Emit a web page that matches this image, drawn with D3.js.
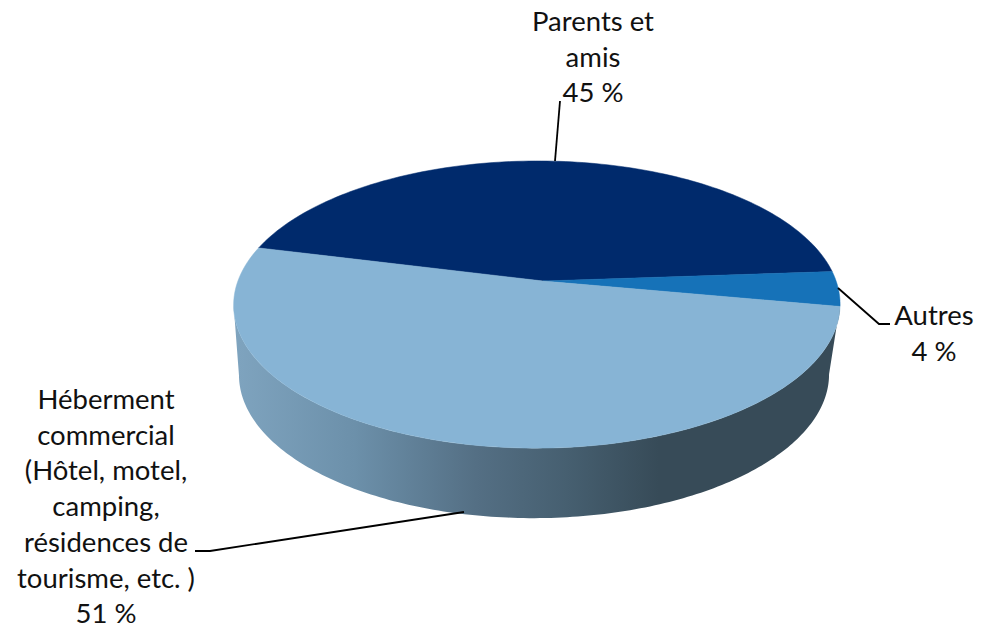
<!DOCTYPE html>
<html><head><meta charset="utf-8">
<script src="https://cdn.jsdelivr.net/npm/d3@7"></script>
<style>html,body{margin:0;background:#fff}svg{display:block}text{font-family:Lato,"Open Sans",sans-serif;font-size:27.5px;fill:#111}</style>
</head><body><div id="c"></div>
<script>
const categories = ["Parents et amis", "Autres", "Héberment commercial"];
const values = [45, 4, 51];
const colors = ["#002a6c", "#1672b8", "#87b4d5"];
const labelLines = [
  ["Parents et", "amis", "45 %"],
  ["Autres", "4 %"],
  ["Héberment", "commercial", "(Hôtel, motel,", "camping,", "résidences de", "tourisme, etc. )", "51 %"]
];
const labelAnchors = [[593, 31], [934, 325], [106, 409]];
const leaders = [
  [[555, 161], [560, 101]],
  [[838, 288], [879, 324], [890, 324]],
  [[464, 512], [210, 551], [195, 551]]
];
const W = 982, H = 626;
const svg = d3.select("#c").append("svg").attr("width", W).attr("height", H);

const pie = d3.pie().sort(null).value(d => d)
  .startAngle(-76 * Math.PI / 180).endAngle(284 * Math.PI / 180);
const arcs = pie(values);

const k = 0.164, j = 0.02, A = 139.7, B = 299;
function proj(a, r, ox, oy, sx) {
  const u = r * Math.sin(a), v = r * Math.cos(a), w = 1 + k * v + j * u;
  return [ox + sx * B * u / w, oy - A * v / w];
}
const top0 = a => proj(a, 1, 543, 281, 1);
const bot0 = a => proj(a, 1, 540, 351, 0.973);
const line = d3.line();
const samples = d3.range(0, 721).map(i => i / 720 * 2 * Math.PI);

// side wall
const defs = svg.append("defs");
const g = defs.append("linearGradient").attr("id", "wall").attr("gradientUnits", "userSpaceOnUse")
  .attr("x1", 233).attr("x2", 841).attr("y1", 0).attr("y2", 0);
[[0, "#7fa4bf"], [0.2, "#6c90aa"], [0.4, "#546f84"], [0.55, "#465f70"], [0.7, "#374b58"], [1, "#374b58"]]
  .forEach(s => g.append("stop").attr("offset", s[0]).attr("stop-color", s[1]));
const ext = f => {
  const xs = samples.map(a => f(a)[0]);
  return [samples[xs.indexOf(d3.max(xs))], samples[xs.indexOf(d3.min(xs))]];
};
const arcPts = (f, a0, a1) => d3.range(0, 181).map(i => f(a0 + (a1 - a0) * i / 180));
const [tr, tl] = ext(top0), [br, bl] = ext(bot0);
svg.append("path")
  .attr("d", line([...arcPts(top0, tr, tl), ...arcPts(bot0, bl, br)]) + "Z")
  .attr("fill", "url(#wall)");

// top face
svg.selectAll("path.s").data(arcs).enter().append("path").attr("class", "s")
  .attr("fill", (d, i) => colors[i])
  .attr("stroke", (d, i) => colors[i]).attr("stroke-width", 0.5)
  .attr("d", d => line([[543, 281], ...d3.range(0, 121).map(i => top0(d.startAngle + (d.endAngle - d.startAngle) * i / 120))]) + "Z");

// leaders
svg.selectAll("path.l").data(leaders).enter().append("path").attr("class", "l")
  .attr("d", d => line(d)).attr("fill", "none").attr("stroke", "#000").attr("stroke-width", 1.8);

// labels
labelLines.forEach((ls, i) => {
  const t = svg.append("text").attr("text-anchor", "middle");
  ls.forEach((s, n) => t.append("tspan").attr("x", labelAnchors[i][0]).attr("y", labelAnchors[i][1] + n * 35.7).text(s));
});
</script></body></html>
